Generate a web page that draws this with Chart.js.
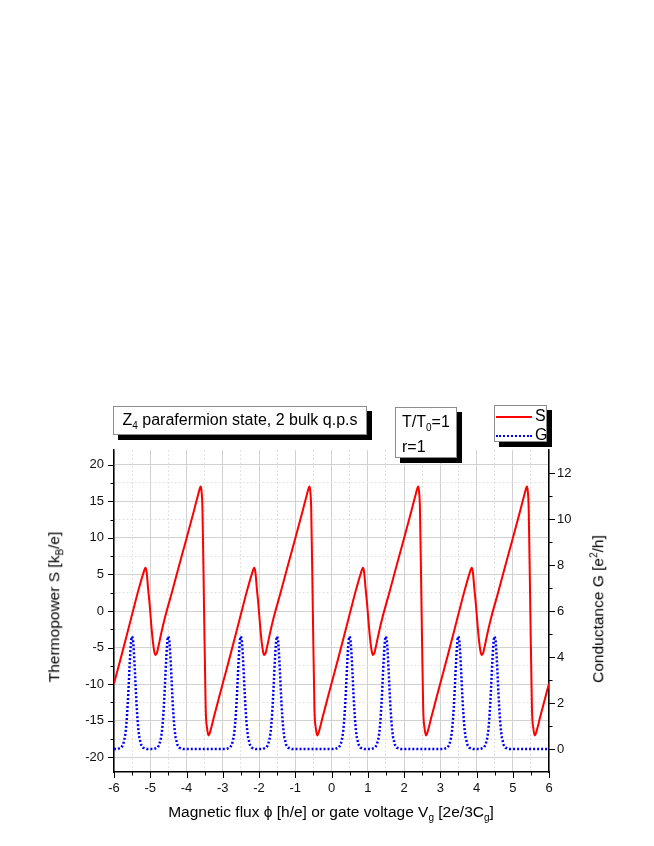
<!DOCTYPE html>
<html>
<head>
<meta charset="utf-8">
<script src="https://cdn.jsdelivr.net/npm/chart.js@4.4.0/dist/chart.umd.min.js"></script>
<style>
  body { margin: 0; background: #fff; }
  #wrap { position: relative; width: 654px; height: 846px; font-family: "Liberation Sans", Arial, sans-serif; color: #000; }
  #wrap canvas { position: absolute; left: 0; top: 0; }
  .box { position: absolute; background: #fff; border: 1px solid #8c8c8c; box-shadow: 5px 5px 0 #000; font-size: 16px; box-sizing: border-box; line-height: 1; }
  .title { position: absolute; font-size: 15.5px; white-space: nowrap; line-height: 1; }
  sub { font-size: 10px; vertical-align: -4px; line-height: 0; }
  sup { font-size: 10px; vertical-align: 6px; line-height: 0; }
  .row { position: absolute; left: 1px; height: 16px; }
  .row span.ln { position: absolute; left: 0; top: 8px; width: 36px; }
  .row span.tx { position: absolute; left: 39px; top: 0; }
</style>
</head>
<body>
<div id="wrap">
  <canvas id="myChart" width="654" height="846"></canvas>

  <div class="box" style="left:113px; top:406px; width:254px; height:29px; text-align:center; padding-top:5px;">
    Z<sub>4</sub> parafermion state, 2 bulk q.p.s
  </div>
  <div class="box" style="left:395px; top:407px; width:62px; height:51px; padding:6px 0 0 6px;">
    T/T<sub>0</sub>=1<div style="margin-top:9px;">r=1</div>
  </div>
  <div class="box" id="legendBox" style="left:494px; top:405px; width:53px; height:37px;"></div>

  <div class="title" style="left:331px; top:812px; transform:translate(-50%,-50%);">
    Magnetic flux &#x3D5; [h/e] or gate voltage V<sub>g</sub> [2e/3C<sub>g</sub>]
  </div>
  <div class="title" style="left:54px; top:607px; transform:translate(-50%,-50%) rotate(-90deg);">
    Thermopower S [k<sub>B</sub>/e]
  </div>
  <div class="title" style="left:598px; top:609px; transform:translate(-50%,-50%) rotate(-90deg);">
    Conductance G [e<sup>2</sup>/h]
  </div>
</div>

<script>
// thermopower S
const fluxS = [
  -6.00,-5.80,-5.60,-5.43,-5.30,-5.20,-5.13,-5.10,-5.06,-5.015,-4.97,-4.92,-4.89,-4.86,-4.82,-4.79,-4.70,-4.60,-4.40,-4.20,-4.00,-3.80,-3.68,-3.63,-3.61,-3.59,-3.56,-3.515,-3.47,-3.43,-3.39,-3.36,-3.32,-3.25,-3.17,
  -3.00,-2.80,-2.60,-2.43,-2.30,-2.20,-2.13,-2.10,-2.06,-2.015,-1.97,-1.92,-1.89,-1.86,-1.82,-1.79,-1.70,-1.60,-1.40,-1.20,-1.00,-0.80,-0.68,-0.63,-0.61,-0.59,-0.56,-0.515,-0.47,-0.43,-0.39,-0.36,-0.32,-0.25,-0.17,
  0.00,0.20,0.40,0.57,0.70,0.80,0.87,0.90,0.94,0.985,1.03,1.08,1.11,1.14,1.18,1.21,1.30,1.40,1.60,1.80,2.00,2.20,2.32,2.37,2.39,2.41,2.44,2.485,2.53,2.57,2.61,2.64,2.68,2.75,2.83,
  3.00,3.20,3.40,3.57,3.70,3.80,3.87,3.90,3.94,3.985,4.03,4.08,4.11,4.14,4.18,4.21,4.30,4.40,4.60,4.80,5.00,5.20,5.32,5.37,5.39,5.41,5.44,5.485,5.53,5.57,5.61,5.64,5.68,5.75,5.83,
  6.00
];
const thermopower = [
  -9.9,-6.2,-2.4,0.9,3.3,5.0,5.9,5.3,3.1,0.8,-2.0,-4.5,-5.5,-6.0,-5.8,-5.2,-3.1,-1.0,2.6,6.3,9.9,13.6,15.9,16.8,17.0,16.6,14.0,0.0,-13.4,-16.1,-17.0,-16.7,-16.0,-14.6,-13.1,
  -9.9,-6.2,-2.4,0.9,3.3,5.0,5.9,5.3,3.1,0.8,-2.0,-4.5,-5.5,-6.0,-5.8,-5.2,-3.1,-1.0,2.6,6.3,9.9,13.6,15.9,16.8,17.0,16.6,14.0,0.0,-13.4,-16.1,-17.0,-16.7,-16.0,-14.6,-13.1,
  -9.9,-6.2,-2.4,0.9,3.3,5.0,5.9,5.3,3.1,0.8,-2.0,-4.5,-5.5,-6.0,-5.8,-5.2,-3.1,-1.0,2.6,6.3,9.9,13.6,15.9,16.8,17.0,16.6,14.0,0.0,-13.4,-16.1,-17.0,-16.7,-16.0,-14.6,-13.1,
  -9.9,-6.2,-2.4,0.9,3.3,5.0,5.9,5.3,3.1,0.8,-2.0,-4.5,-5.5,-6.0,-5.8,-5.2,-3.1,-1.0,2.6,6.3,9.9,13.6,15.9,16.8,17.0,16.6,14.0,0.0,-13.4,-16.1,-17.0,-16.7,-16.0,-14.6,-13.1,
  -9.9
];

// conductance G (one line per peak)
const fluxG = [
  -6.0,
  -5.9,-5.8,-5.75,-5.7,-5.675,-5.65,-5.625,-5.6,-5.575,-5.55,-5.525,-5.5,-5.475,-5.45,-5.425,-5.4,-5.375,-5.35,-5.325,-5.3,-5.25,-5.2,-5.1,
  -4.9,-4.8,-4.75,-4.7,-4.675,-4.65,-4.625,-4.6,-4.575,-4.55,-4.525,-4.5,-4.475,-4.45,-4.425,-4.4,-4.375,-4.35,-4.325,-4.3,-4.25,-4.2,-4.1,
  -2.9,-2.8,-2.75,-2.7,-2.675,-2.65,-2.625,-2.6,-2.575,-2.55,-2.525,-2.5,-2.475,-2.45,-2.425,-2.4,-2.375,-2.35,-2.325,-2.3,-2.25,-2.2,-2.1,
  -1.9,-1.8,-1.75,-1.7,-1.675,-1.65,-1.625,-1.6,-1.575,-1.55,-1.525,-1.5,-1.475,-1.45,-1.425,-1.4,-1.375,-1.35,-1.325,-1.3,-1.25,-1.2,-1.1,
  0.1,0.2,0.25,0.3,0.325,0.35,0.375,0.4,0.425,0.45,0.475,0.5,0.525,0.55,0.575,0.6,0.625,0.65,0.675,0.7,0.75,0.8,0.9,
  1.1,1.2,1.25,1.3,1.325,1.35,1.375,1.4,1.425,1.45,1.475,1.5,1.525,1.55,1.575,1.6,1.625,1.65,1.675,1.7,1.75,1.8,1.9,
  3.1,3.2,3.25,3.3,3.325,3.35,3.375,3.4,3.425,3.45,3.475,3.5,3.525,3.55,3.575,3.6,3.625,3.65,3.675,3.7,3.75,3.8,3.9,
  4.1,4.2,4.25,4.3,4.325,4.35,4.375,4.4,4.425,4.45,4.475,4.5,4.525,4.55,4.575,4.6,4.625,4.65,4.675,4.7,4.75,4.8,4.9,
  6.0
];
const conductance = [
  0,
  0,0.06,0.18,0.5,0.8,1.25,1.85,2.6,3.45,4.2,4.75,4.9,4.75,4.2,3.45,2.6,1.85,1.25,0.8,0.5,0.18,0.06,0,
  0,0.06,0.18,0.5,0.8,1.25,1.85,2.6,3.45,4.2,4.75,4.9,4.75,4.2,3.45,2.6,1.85,1.25,0.8,0.5,0.18,0.06,0,
  0,0.06,0.18,0.5,0.8,1.25,1.85,2.6,3.45,4.2,4.75,4.9,4.75,4.2,3.45,2.6,1.85,1.25,0.8,0.5,0.18,0.06,0,
  0,0.06,0.18,0.5,0.8,1.25,1.85,2.6,3.45,4.2,4.75,4.9,4.75,4.2,3.45,2.6,1.85,1.25,0.8,0.5,0.18,0.06,0,
  0,0.06,0.18,0.5,0.8,1.25,1.85,2.6,3.45,4.2,4.75,4.9,4.75,4.2,3.45,2.6,1.85,1.25,0.8,0.5,0.18,0.06,0,
  0,0.06,0.18,0.5,0.8,1.25,1.85,2.6,3.45,4.2,4.75,4.9,4.75,4.2,3.45,2.6,1.85,1.25,0.8,0.5,0.18,0.06,0,
  0,0.06,0.18,0.5,0.8,1.25,1.85,2.6,3.45,4.2,4.75,4.9,4.75,4.2,3.45,2.6,1.85,1.25,0.8,0.5,0.18,0.06,0,
  0,0.06,0.18,0.5,0.8,1.25,1.85,2.6,3.45,4.2,4.75,4.9,4.75,4.2,3.45,2.6,1.85,1.25,0.8,0.5,0.18,0.06,0,
  0
];

const seriesNames = ["S", "G"];

// ticks (major ones get labels)
const fluxTicks = [-6,-5.5,-5,-4.5,-4,-3.5,-3,-2.5,-2,-1.5,-1,-0.5,0,0.5,1,1.5,2,2.5,3,3.5,4,4.5,5,5.5,6];
const sTicks = [-20,-17.5,-15,-12.5,-10,-7.5,-5,-2.5,0,2.5,5,7.5,10,12.5,15,17.5,20];
const gTicks = [0,1,2,3,4,5,6,7,8,9,10,11,12];

const FONT = "'Liberation Sans', Arial, sans-serif";
const tickFont = { family: FONT, size: 13 };
const majorStep = { x: 1, y: 5, g: 2 };

function isMajor(v, step) {
    return Math.abs(v / step - Math.round(v / step)) < 1e-6;
}

function gridStyle(step) {
    return {
        color: ctx => isMajor(ctx.tick.value, step) ? '#d2d2d2' : '#e2e2e2',
        lineWidth: 1,
        drawTicks: false
    };
}

function borderStyle(step) {
    return {
        color: '#000',
        width: 1.5,
        dash: ctx => (ctx.type === 'tick' && !isMajor(ctx.tick.value, step)) ? [2, 2] : []
    };
}

// tick marks outside the frame: long on major ticks, short on minor
const tickMarks = {
    id: 'tickMarks',
    afterDraw(chart) {
        const ctx = chart.ctx;
        const area = chart.chartArea;
        ctx.save();
        ctx.strokeStyle = '#000';
        ctx.lineWidth = 1;
        ['x', 'y', 'g'].forEach(id => {
            const scale = chart.scales[id];
            scale.ticks.forEach(t => {
                const len = isMajor(t.value, majorStep[id]) ? 6 : 3.5;
                const p = Math.round(scale.getPixelForValue(t.value)) + 0.5;
                ctx.beginPath();
                if (id === 'x') {
                    ctx.moveTo(p, area.bottom);
                    ctx.lineTo(p, area.bottom + len);
                } else if (id === 'y') {
                    ctx.moveTo(area.left, p);
                    ctx.lineTo(area.left - len, p);
                } else {
                    ctx.moveTo(area.right, p);
                    ctx.lineTo(area.right + len, p);
                }
                ctx.stroke();
            });
        });
        ctx.restore();
    }
};

const colors = ['#ff0000', '#0000ff'];

new Chart("myChart", {
    type: "line",
    data: {
        datasets: [{
            label: seriesNames[0],
            data: fluxS.map((x, i) => ({ x: x, y: thermopower[i] })),
            yAxisID: 'y',
            borderColor: colors[0],
            borderWidth: 2,
            pointRadius: 0,
            cubicInterpolationMode: 'monotone',
            fill: false,
            order: 0
        }, {
            label: seriesNames[1],
            data: fluxG.map((x, i) => ({ x: x, y: conductance[i] })),
            yAxisID: 'g',
            borderColor: colors[1],
            borderWidth: 2.5,
            borderDash: [2, 2],
            pointRadius: 0,
            tension: 0,
            fill: false,
            order: 1
        }]
    },
    options: {
        responsive: false,
        animation: false,
        layout: { padding: { top: 450, left: 0, right: 0, bottom: 0 } },
        plugins: {
            legend: { display: false },
            tooltip: { enabled: false }
        },
        scales: {
            x: {
                type: 'linear',
                min: -6, max: 6,
                afterBuildTicks: s => { s.ticks = fluxTicks.map(v => ({ value: v })); },
                afterFit: s => { s.height = 74; },
                ticks: {
                    autoSkip: false, maxRotation: 0, padding: 9,
                    font: tickFont, color: '#111',
                    callback: v => isMajor(v, 1) ? String(v) : ''
                },
                grid: gridStyle(1),
                border: borderStyle(1)
            },
            y: {
                type: 'linear', position: 'left',
                min: -22, max: 22,
                afterBuildTicks: s => { s.ticks = sTicks.map(v => ({ value: v })); },
                afterFit: s => { s.width = 114; },
                ticks: {
                    autoSkip: false, padding: 10,
                    font: tickFont, color: '#111',
                    callback: v => isMajor(v, 5) ? String(v) : ''
                },
                grid: gridStyle(5),
                border: borderStyle(5)
            },
            g: {
                type: 'linear', position: 'right',
                min: -1, max: 13,
                afterBuildTicks: s => { s.ticks = gTicks.map(v => ({ value: v })); },
                afterFit: s => { s.width = 105; },
                ticks: {
                    autoSkip: false, padding: 8,
                    font: tickFont, color: '#111',
                    callback: v => isMajor(v, 2) ? String(v) : ''
                },
                grid: { drawOnChartArea: false, drawTicks: false },
                border: { color: '#000', width: 1.5 }
            }
        }
    },
    plugins: [tickMarks]
});

// legend box built from the series names and line styles
const legendBox = document.getElementById('legendBox');
const lineCss = [
    'border-top:2px solid ' + colors[0],
    'border-top:2.5px dotted ' + colors[1]
];
seriesNames.forEach((name, i) => {
    const row = document.createElement('div');
    row.className = 'row';
    row.style.top = (2 + i * 19) + 'px';
    row.innerHTML = '<span class="ln" style="' + lineCss[i] + '"></span><span class="tx">' + name + '</span>';
    legendBox.appendChild(row);
});
</script>
</body>
</html>
